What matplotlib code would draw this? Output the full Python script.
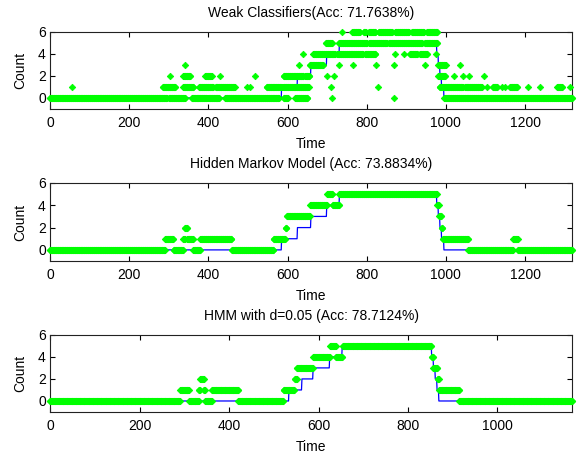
import numpy as np
import matplotlib
matplotlib.use("Agg")
import matplotlib.pyplot as plt

plt.rcParams['font.family'] = ['Liberation Sans', 'DejaVu Sans']
plt.rcParams['font.size'] = 10

# ground truth count (change points: start frame, value), sequences 1 and 2
n_long = 1320
truth_starts = [0, 585, 625, 659, 699, 731, 977, 981, 985, 989, 995]
truth_values = [0, 1, 2, 3, 4, 5, 4, 3, 2, 1, 0]

# weak classifiers: frames where each count was predicted (start, end)
weak_0 = [(0, 295), (300, 341), (358, 396), (400, 427), (443, 578), (590, 600),
          (620, 650), (712, 712), (870, 870), (996, 1319)]
weak_1 = [(55, 55), (285, 316), (337, 362), (377, 412), (418, 466), (497, 497),
          (506, 506), (547, 585), (589, 653), (710, 710), (829, 829), (984, 1042),
          (1048, 1090), (1104, 1104), (1119, 1129), (1142, 1142), (1150, 1150),
          (1162, 1180), (1208, 1208), (1238, 1238), (1281, 1293), (1314, 1314)]
weak_2 = [(303, 303), (337, 354), (392, 408), (429, 429), (518, 518), (590, 640),
          (645, 655), (700, 700), (718, 718), (981, 998), (1021, 1021), (1044, 1044),
          (1058, 1058), (1096, 1096)]
weak_3 = [(342, 342), (630, 630), (656, 690), (731, 731), (766, 766), (823, 823),
          (869, 869), (948, 948), (981, 999), (1035, 1035)]
weak_4 = [(640, 640), (665, 720), (726, 790), (796, 822), (872, 872), (893, 893),
          (909, 928), (934, 952), (975, 975)]
weak_5 = [(697, 712), (730, 800), (806, 850), (856, 940), (946, 978)]
weak_6 = [(737, 737), (764, 782), (792, 797), (805, 822), (830, 864), (872, 906),
          (914, 944), (952, 978)]

# HMM prediction (change points)
hmm_starts = [0, 291, 312, 337, 341, 347, 362, 380, 459, 565, 595, 598, 657, 700,
              714, 731, 978, 983, 989, 992, 1057, 1170, 1182]
hmm_values = [0, 1, 0, 1, 2, 1, 0, 1, 0, 1, 2, 3, 4, 5, 4, 5, 4, 3, 2, 1, 0, 1, 0]

# third sequence: ground truth and HMM with d=0.05
n_short = 1168
truth3_starts = [0, 534, 563, 588, 625, 653, 853, 857, 861, 865, 869]
truth3_values = [0, 1, 2, 3, 4, 5, 4, 3, 2, 1, 0]
d05_starts = [0, 291, 311, 333, 336, 344, 347, 362, 421, 522, 547, 552, 588, 626,
              639, 654, 853, 857, 866, 870, 915]
d05_values = [0, 1, 0, 1, 2, 1, 0, 1, 0, 1, 2, 3, 4, 5, 4, 5, 4, 3, 2, 1, 0]


def steps(starts, values, n):
    y = np.zeros(n)
    for i, s in enumerate(starts):
        e = starts[i + 1] if i + 1 < len(starts) else n
        y[s:e] = values[i]
    return y


def spans(intervals, level):
    t = np.concatenate([np.arange(a, b + 1) for a, b in intervals])
    return t, np.full(len(t), level)


green = '#00ff00'
blue = '#0000ff'


def style(ax, xmax, xticks, title):
    ax.set_xlim(0, xmax)
    ax.set_ylim(-1, 6)
    ax.set_xticks(xticks)
    ax.set_yticks([0, 2, 4, 6])
    ax.tick_params(direction='in', top=True, right=True, length=3.6, width=0.8,
                   labelsize=10)
    ax.tick_params(axis='x', pad=5)
    ax.tick_params(axis='y', pad=3)
    for sp in ax.spines.values():
        sp.set_linewidth(0.8)
        sp.set_color('#222222')
    ax.set_xlabel('Time', labelpad=5)
    ax.set_ylabel('Count', labelpad=8)
    ax.set_title(title, fontsize=10, pad=11)


fig = plt.figure(figsize=(5.77, 4.54), dpi=100)
ax1 = fig.add_axes([0.0867, 0.760, 0.905, 0.170])
ax2 = fig.add_axes([0.0867, 0.425, 0.905, 0.172])
ax3 = fig.add_axes([0.0867, 0.0925, 0.905, 0.170])

mk = dict(marker='D', ms=3.3, color=green, mec=green, mew=0.6, ls='none',
          clip_on=False, zorder=3)

t_long = np.arange(n_long)
truth = steps(truth_starts, truth_values, n_long)

ax1.plot(t_long, truth, color=blue, lw=0.9)
for lvl, iv in enumerate([weak_0, weak_1, weak_2, weak_3, weak_4, weak_5, weak_6]):
    tt, vv = spans(iv, lvl)
    ax1.plot(tt, vv, **mk)
style(ax1, 1319, range(0, 1201, 200), 'Weak Classifiers(Acc: 71.7638%)')

ax2.plot(t_long, truth, color=blue, lw=0.9)
ax2.plot(t_long, steps(hmm_starts, hmm_values, n_long), **mk)
style(ax2, 1319, range(0, 1201, 200), 'Hidden Markov Model (Acc: 73.8834%)')

t_short = np.arange(n_short)
ax3.plot(t_short, steps(truth3_starts, truth3_values, n_short), color=blue, lw=0.9)
ax3.plot(t_short, steps(d05_starts, d05_values, n_short), **mk)
style(ax3, 1167, range(0, 1001, 200), 'HMM with d=0.05 (Acc: 78.7124%)')

fig.savefig('out.png', dpi=100, facecolor='white')
